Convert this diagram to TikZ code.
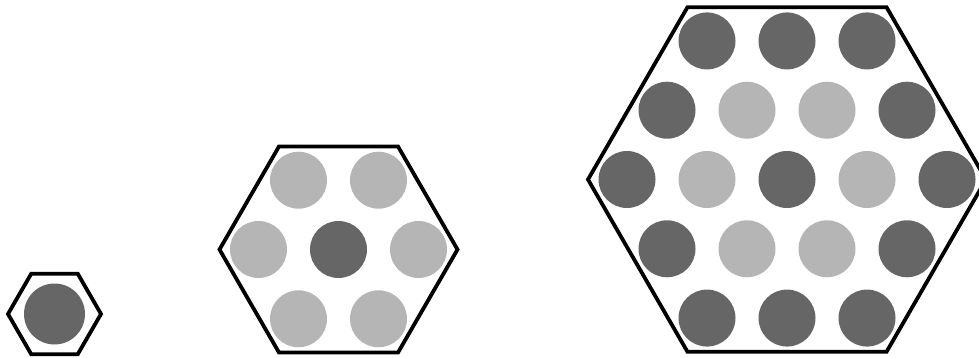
\documentclass[tikz,border=0pt]{standalone}
\usetikzlibrary{calc}
\begin{document}
\begin{tikzpicture}[x=1pt,y=-1pt,
  hexline/.style={line width=3.8pt, line join=miter, draw=black},
  darkdot/.style={fill=dotdark},
  lightdot/.style={fill=dotlight}]
\definecolor{dotdark}{HTML}{666666}
\definecolor{dotlight}{HTML}{B5B5B5}
\useasboundingbox (0,0) rectangle (979,358);
\clip (0,0) rectangle (979,358);
% hexagon 1
\coordinate (h1) at (54.5,314);
\draw[hexline] ($(h1)+(-46.5,0)$) -- ++(23.25,-40.27) -- ++(46.5,0) -- ++(23.25,40.27) -- ++(-23.25,40.27) -- ++(-46.5,0) -- cycle;
\fill[darkdot] (h1) circle (30.5);
% hexagon 2
\coordinate (h2) at (338.5,249.5);
\draw[hexline] ($(h2)+(-119,0)$) -- ++(59.5,-103.06) -- ++(119,0) -- ++(59.5,103.06) -- ++(-59.5,103.06) -- ++(-119,0) -- cycle;
\fill[darkdot] (h2) circle (28.5);
\foreach \a in {0,60,...,300}
  \fill[lightdot] ($(h2)+(\a:80)$) circle (28.5);
% hexagon 3
\coordinate (h3) at (787,179.5);
\draw[hexline] ($(h3)+(-199,0)$) -- ++(99.5,-172.34) -- ++(199,0) -- ++(99.5,172.34) -- ++(-99.5,172.34) -- ++(-199,0) -- cycle;
\fill[darkdot] (h3) circle (28.5);
\foreach \a in {0,60,...,300}
  \fill[lightdot] ($(h3)+(\a:80)$) circle (28.5);
\foreach \a in {0,60,...,300}
  \fill[darkdot] ($(h3)+(\a:160)$) circle (28.5);
\foreach \a in {30,90,...,330}
  \fill[darkdot] ($(h3)+(\a:138.56)$) circle (28.5);
\end{tikzpicture}
\end{document}
